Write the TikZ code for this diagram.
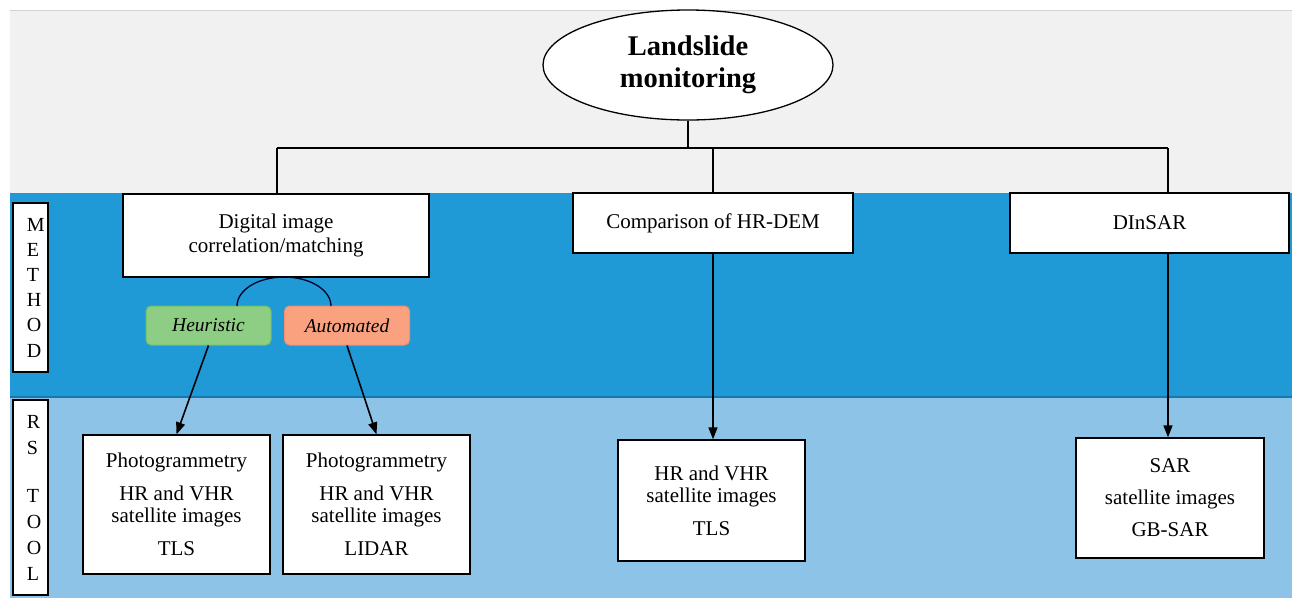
\documentclass[tikz,border=0pt]{standalone}
\usepackage{fontspec}
\setmainfont{Liberation Serif}
\usetikzlibrary{shapes.geometric,arrows.meta}
\definecolor{bggray}{RGB}{241,241,241}
\definecolor{topline}{RGB}{210,210,210}
\definecolor{darkblue}{RGB}{31,154,215}
\definecolor{lightblue}{RGB}{142,195,232}
\definecolor{sepblue}{RGB}{22,120,175}
\definecolor{heurfill}{RGB}{142,206,132}
\definecolor{heurline}{RGB}{112,192,100}
\definecolor{autofill}{RGB}{250,162,128}
\definecolor{autoline}{RGB}{240,142,110}
\tikzset{
  box/.style={draw=black, fill=white, line width=1.3pt, inner sep=0pt, align=center,
    font=\fontsize{21}{22}\selectfont},
  sidebox/.style={draw=black, fill=white, line width=1.3pt, inner sep=0pt, align=left,
    text width=7pt, minimum width=35pt, font=\fontsize{20}{25.2}\selectfont},
  tag/.style={rounded corners=5pt, line width=1pt, inner sep=0pt, minimum width=125pt,
    minimum height=39pt, font=\fontsize{19.5}{22}\selectfont\itshape},
  conn/.style={draw=black, line width=1.2pt},
  arr/.style={draw=black, line width=1.6pt, -{Triangle[length=12pt,width=9pt]}},
}
\begin{document}
\begin{tikzpicture}[x=1pt,y=-1pt]
\useasboundingbox (0,0) rectangle (1292,598);
% backgrounds
\fill[white] (0,0) rectangle (1292,598);
\fill[bggray] (10,10) rectangle (1292,193);
\draw[topline, line width=1pt] (10,10) -- (1292,10);
\fill[darkblue] (10,193) rectangle (1292,397);
\fill[lightblue] (10,397) rectangle (1292,598);
\draw[sepblue, line width=2pt] (10,397) -- (1292,397);

% root
\node[ellipse, draw=black, fill=white, line width=1.3pt, inner sep=0pt,
  minimum width=290pt, minimum height=110pt, align=center,
  font=\fontsize{28.5}{32}\selectfont\bfseries] (root) at (688,65) {Landslide\\monitoring};

% method boxes
\node[box, minimum width=306pt, minimum height=83pt, font=\fontsize{21}{24}\selectfont] (dic) at (276,235.5) {Digital image\\correlation/matching};
\node[box, minimum width=280pt, minimum height=60pt] (comp) at (713,223) {Comparison of HR-DEM};
\node[box, minimum width=279pt, minimum height=60pt] (din) at (1149.5,223) {DInSAR};

% side labels
\node[sidebox, minimum height=169pt] (meth) at (30.5,287.5) {M\\E\\T\\H\\O\\D};
\node[sidebox, minimum height=195pt, font=\fontsize{20}{26}\selectfont] (rs) at (30.5,497.5) {R\\S\\[22pt]T\\O\\O\\L};

% tags
\node[tag, fill=heurfill, draw=heurline] (heur) at (208.5,325.5) {Heuristic};
\node[tag, fill=autofill, draw=autoline] (auto) at (347,325.5) {Automated};

% tool boxes
\node[box, minimum width=187pt, minimum height=139pt] (p1) at (176.5,504.5) {Photogrammetry\\[11pt]HR and VHR\\satellite images\\[11pt]TLS};
\node[box, minimum width=187pt, minimum height=139pt] (p2) at (376.5,504.5) {Photogrammetry\\[11pt]HR and VHR\\satellite images\\[11pt]LIDAR};
\node[box, minimum width=187pt, minimum height=121pt] (hr) at (711.5,500.5) {HR and VHR\\satellite images\\[11pt]TLS};
\node[box, minimum width=188pt, minimum height=120pt] (sar) at (1170,498) {SAR\\[10pt]satellite images\\[10pt]GB-SAR};

% tree connectors
\coordinate (hm) at (688,148);
\coordinate (hl) at (277,148);
\coordinate (hr2) at (1168,148);
\coordinate (arcL) at (237,306);
\draw[conn] (root.south) -- (hm);
\draw[conn] (hl) -- (hr2);
\draw[conn] (hl) -- (hl |- dic.north);
\draw[conn] (hm -| comp.north) -- (comp.north);
\draw[conn] (hr2) -- (hr2 |- din.north);

% arc joining the two tags
\draw[draw=black!85!blue, line width=1.3pt] (arcL) arc[start angle=180, end angle=360, x radius=47, y radius=29];

% arrows
\draw[arr] (heur.south) -- (p1.north);
\draw[arr] (auto.south) -- (p2.north);
\draw[arr] (comp.south) -- (comp.south |- hr.north);
\draw[arr] (hr2 |- din.south) -- (hr2 |- sar.north);
\end{tikzpicture}
\end{document}
